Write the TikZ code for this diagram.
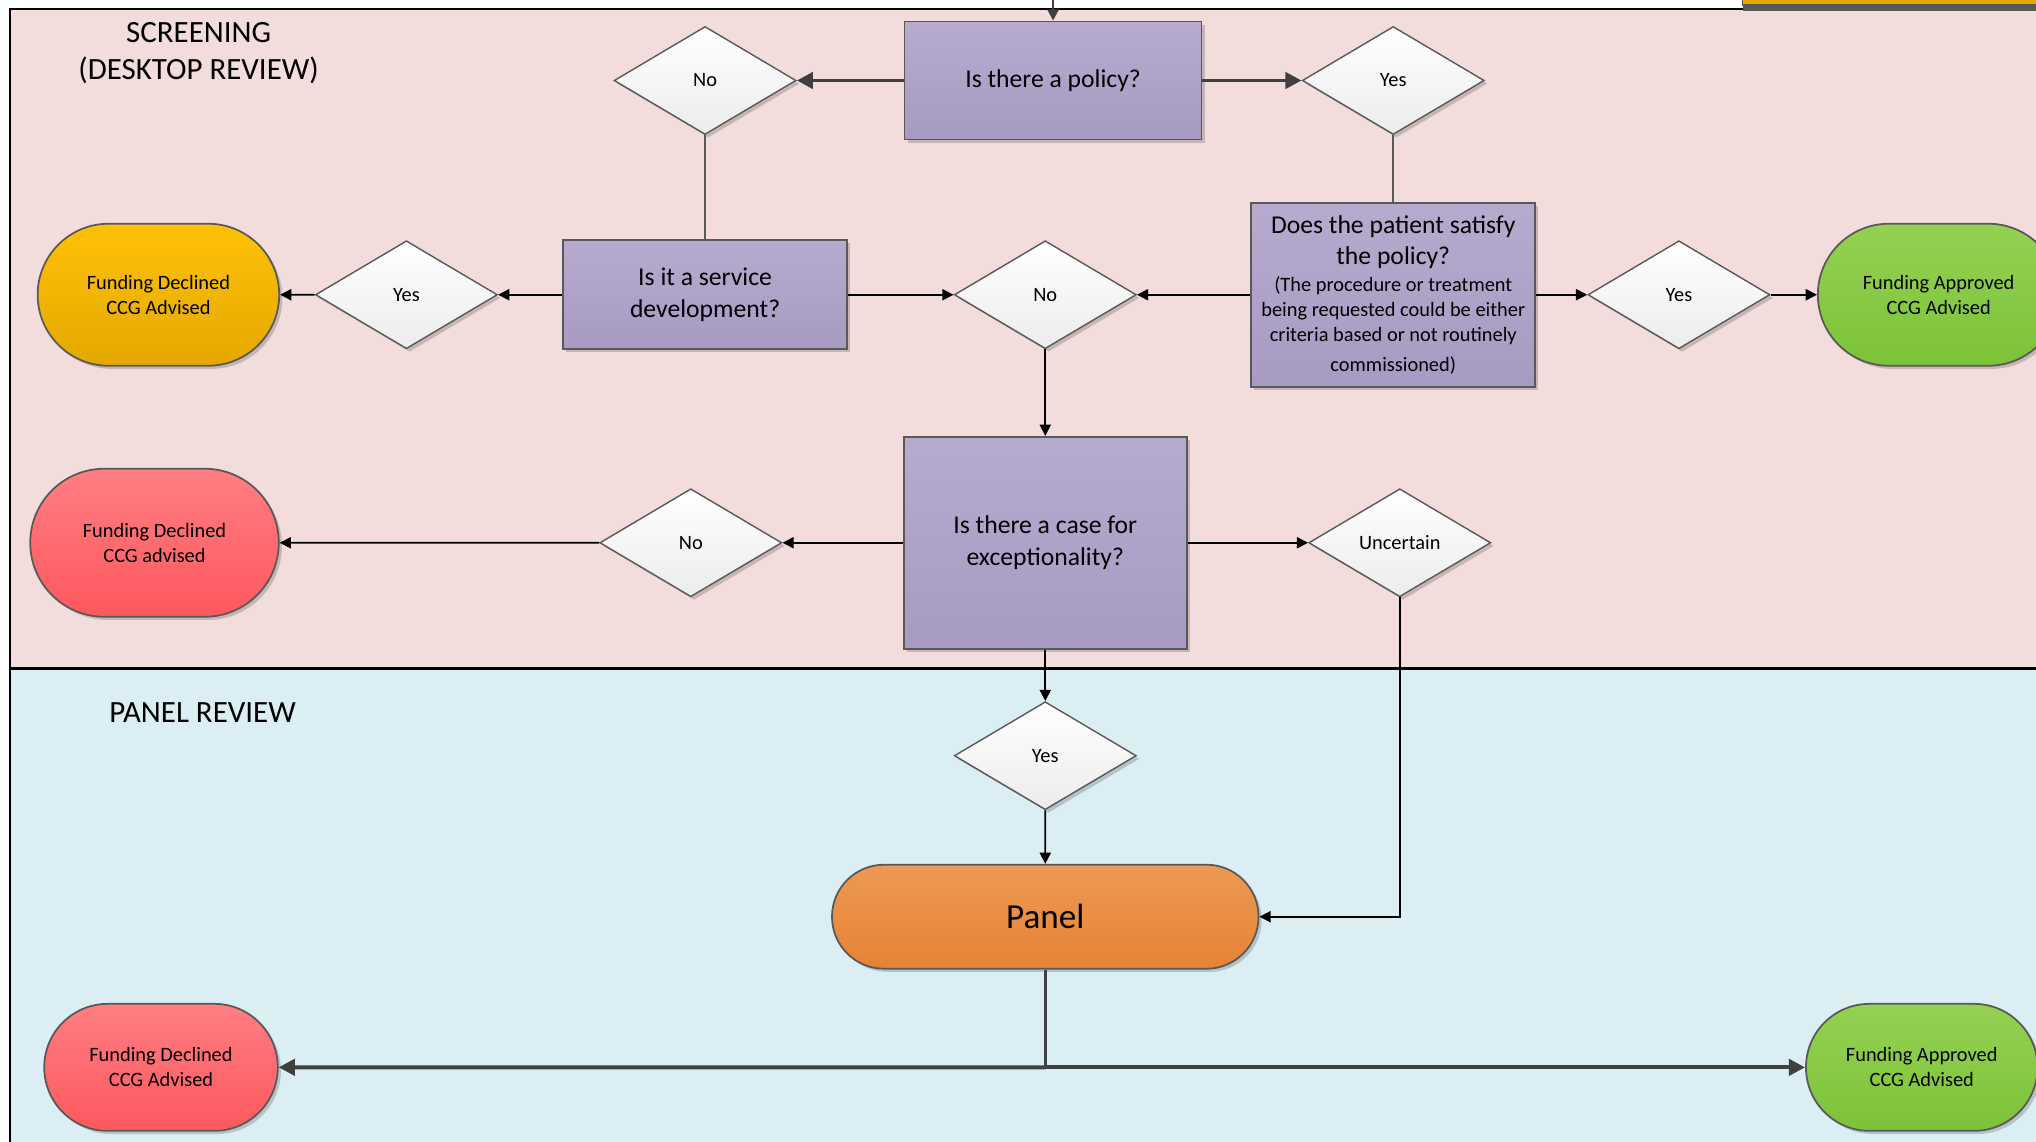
\documentclass[tikz,border=0pt]{standalone}
\usepackage{fontspec}
\setmainfont{Carlito}
\usepackage{tikz}
\usetikzlibrary{arrows.meta,shapes.geometric,shapes.misc,shadows,positioning}
\definecolor{screenbg}{RGB}{242,221,220}
\definecolor{panelbg}{RGB}{219,238,244}
\definecolor{qtop}{RGB}{182,171,206}
\definecolor{qbottom}{RGB}{167,154,195}
\definecolor{dbottom}{RGB}{236,236,236}
\definecolor{shapeline}{RGB}{89,89,89}
\definecolor{darkline}{RGB}{64,64,64}
\definecolor{goldtop}{RGB}{255,193,7}
\definecolor{goldbottom}{RGB}{228,168,0}
\definecolor{redtop}{RGB}{255,126,130}
\definecolor{redbottom}{RGB}{253,88,93}
\definecolor{greentop}{RGB}{148,209,82}
\definecolor{greenbottom}{RGB}{124,195,56}
\definecolor{orangetop}{RGB}{237,153,84}
\definecolor{orangebottom}{RGB}{230,131,52}
\newcommand{\questionfont}{\fontsize{7.3}{8.9}\selectfont}
\newcommand{\smalltextfont}{\fontsize{5.8}{7.1}\selectfont}
\newcommand{\bandfont}{\fontsize{8.8}{10.7}\selectfont}
\newcommand{\panelfont}{\fontsize{10}{12}\selectfont}
\tikzset{
  every picture/.style = {
    >={Triangle[length=3.2pt,width=3.2pt]},
  }
  ,
  soft shadow/.style = {
    drop shadow = {shadow xshift=0.9pt, shadow yshift=-0.9pt, opacity=0.18, fill=black}
  }
  ,
  question/.style = {
    rectangle,
    draw = shapeline,
    line width = 0.5pt,
    top color = qtop,
    bottom color = qbottom,
    soft shadow,
    font = \questionfont,
    align = center,
    inner sep = 1pt
  }
  , % yes / no / uncertain
  decision/.style = {
    diamond,
    draw = shapeline,
    line width = 0.4pt,
    top color = white,
    bottom color = dbottom,
    soft shadow,
    minimum width = 1.82cm,
    minimum height = 1.08cm,
    inner sep = 0pt,
    font = \smalltextfont
  }
  , % funding outcomes
  outcome/.style = {
    rounded rectangle,
    draw = shapeline,
    line width = 0.5pt,
    soft shadow,
    font = \smalltextfont,
    align = center
  }
  ,
  declined/.style = {outcome, top color=redtop, bottom color=redbottom}
  ,
  approved/.style = {outcome, top color=greentop, bottom color=greenbottom}
  ,
  flow/.style = {->, line width=0.45pt}
  ,
  plain flow/.style = {-, line width=0.45pt, draw=shapeline}
  ,
  main flow/.style = {
    ->,
    line width = 1.1pt,
    draw = darkline,
    >={Triangle[length=4.6pt,width=4.6pt]}
  }
}

\begin{document}
\begin{tikzpicture}[x=0.012985cm, y=-0.012985cm]
\useasboundingbox (0,0) rectangle (1568,879);
% swim lanes
\fill[screenbg] (8,7) rectangle (1590,515);
\fill[panelbg] (8,515) rectangle (1590,890);
\draw[line width=0.6pt] (8,890) -- (8,7) -- (1590,7);
\draw[line width=0.8pt] (8,515) -- (1590,515);
\draw[shapeline, line width=1.2pt] (1342,6.5) -- (1590,6.5);
\draw[shapeline, line width=0.5pt, fill=goldbottom] (1342,-20) rectangle (1590,4);
\node[font=\bandfont, align=center] (screening) at (153,41) {SCREENING\\(DESKTOP REVIEW)};
\node[font=\bandfont] (panelreview) at (156,549) {PANEL REVIEW};

% screening
\coordinate (entry) at (811,-2);
\node[question, minimum width=2.97cm, minimum height=1.18cm] (policy) at (811,62) {Is there a policy?};
\node[decision] (nopol) at (543,62) {No};
\node[decision] (yespol) at (1073,62) {Yes};
\node[question, minimum width=2.84cm, minimum height=1.09cm] (servdev) at (543,227) {Is it a service\\development?};
\node[decision] (yessd) at (313,227) {Yes};
\node[outcome, top color=goldtop, bottom color=goldbottom, minimum width=2.65cm, minimum height=1.42cm] (declinedA) at (122,227) {Funding Declined\\CCG Advised};
\node[decision] (nomid) at (805,227) {No};
\node[question, font=\smalltextfont, minimum width=2.84cm, minimum height=1.84cm] (satisfy) at (1073,227)
  {\questionfont Does the patient satisfy\\[1.8pt] \questionfont the policy?\\[0.7pt] (The procedure or treatment\\ being requested could be either\\ criteria based or not routinely\\[1.4pt] commissioned)};
\node[decision] (yessat) at (1293,227) {Yes};
\node[approved, minimum width=2.65cm, minimum height=1.42cm] (approvedA) at (1493,227) {Funding Approved\\CCG Advised};
\node[question, minimum width=2.83cm, minimum height=2.12cm] (except) at (805,418) {Is there a case for\\exceptionality?};
\node[decision] (noexc) at (532,418) {No};
\node[declined, minimum width=2.72cm, minimum height=1.48cm] (declinedB) at (119,418) {Funding Declined\\CCG advised};
\node[decision] (unc) at (1078,418) {Uncertain};

% panel review
\node[decision] (yespan) at (805,582) {Yes};
\node[outcome, top color=orangetop, bottom color=orangebottom, font=\panelfont, minimum width=4.5cm, minimum height=1.04cm] (panel) at (805,706) {Panel};
\node[declined, minimum width=2.57cm, minimum height=1.27cm] (declinedC) at (124,822) {Funding Declined\\CCG Advised};
\node[approved, minimum width=2.55cm, minimum height=1.27cm] (approvedC) at (1480,822) {Funding Approved\\CCG Advised};
\coordinate (split) at (805,822);

% connectors
\draw[flow, draw=darkline, line width=0.6pt] (entry) -- (policy.north);
\draw[main flow] (policy) -- (nopol);
\draw[main flow] (policy) -- (yespol);
\draw[plain flow] (nopol.south) -- (servdev.north);
\draw[plain flow] (yespol.south) -- (satisfy.north);
\draw[flow] (servdev) -- (yessd);
\draw[flow] (yessd) -- (declinedA);
\draw[flow] (servdev) -- (nomid);
\draw[flow] (satisfy) -- (nomid);
\draw[flow] (satisfy) -- (yessat);
\draw[flow] (yessat) -- (approvedA);
\draw[flow] (nomid) -- (except);
\draw[flow] (except) -- (noexc);
\draw[flow] (noexc) -- (declinedB);
\draw[flow] (except) -- (unc);
\draw[flow] (unc.south) |- (panel.east);
\draw[flow] (except) -- (yespan);
\draw[flow] (yespan) -- (panel);
\draw[darkline, line width=0.7pt] (panel.south) -- (split);
\draw[main flow] (split) -- (declinedC);
\draw[main flow] (split) -- (approvedC);
\end{tikzpicture}
\end{document}
